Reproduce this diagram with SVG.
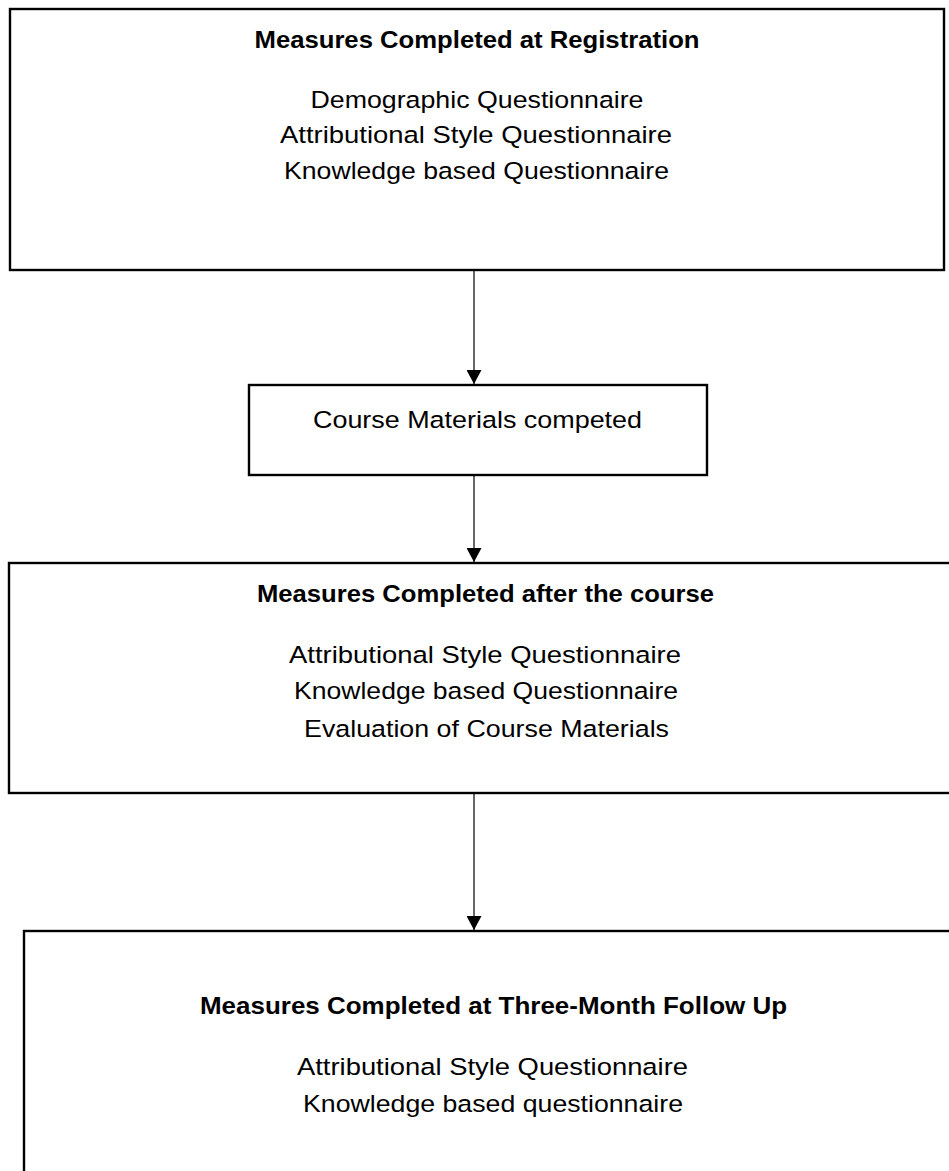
<svg xmlns="http://www.w3.org/2000/svg" width="949" height="1171" viewBox="0 0 949 1171">
<style>
.box{fill:#fff;stroke:#000;stroke-width:2.4}
.t{font-family:"Liberation Sans",Arial,sans-serif;font-size:24.5px;fill:#000;text-anchor:middle}
.b{font-weight:bold}
.c{stroke:#000;stroke-width:1.2;fill:none}
</style>
<defs>
<marker id="ah" viewBox="0 0 14 15" refX="14" refY="7.5" markerWidth="14" markerHeight="15" markerUnits="userSpaceOnUse" orient="auto">
<path d="M0,0 L14,7.5 L0,15 Z" fill="#000"/>
</marker>
</defs>
<rect width="949" height="1171" fill="#fff"/>
<g id="connectors">
<line class="c" x1="474" y1="271" x2="474" y2="384" marker-end="url(#ah)"/>
<line class="c" x1="474" y1="475" x2="474" y2="562" marker-end="url(#ah)"/>
<line class="c" x1="474" y1="793" x2="474" y2="930" marker-end="url(#ah)"/>
</g>
<g id="node-registration">
<rect class="box" x="10" y="9" width="934" height="261"/>
<text class="t b" x="477" y="48" textLength="445" lengthAdjust="spacingAndGlyphs">Measures Completed at Registration</text>
<text class="t" x="477" y="108" textLength="333" lengthAdjust="spacingAndGlyphs">Demographic Questionnaire</text>
<text class="t" x="476" y="143" textLength="392" lengthAdjust="spacingAndGlyphs">Attributional Style Questionnaire</text>
<text class="t" x="476.5" y="179" textLength="385" lengthAdjust="spacingAndGlyphs">Knowledge based Questionnaire</text>
</g>
<g id="node-course">
<rect class="box" x="249" y="385" width="458" height="90"/>
<text class="t" x="477.5" y="428" textLength="329" lengthAdjust="spacingAndGlyphs">Course Materials competed</text>
</g>
<g id="node-after">
<rect class="box" x="9" y="563" width="960" height="230"/>
<text class="t b" x="485.5" y="602" textLength="457" lengthAdjust="spacingAndGlyphs">Measures Completed after the course</text>
<text class="t" x="485" y="663" textLength="392" lengthAdjust="spacingAndGlyphs">Attributional Style Questionnaire</text>
<text class="t" x="486" y="699" textLength="384" lengthAdjust="spacingAndGlyphs">Knowledge based Questionnaire</text>
<text class="t" x="486.5" y="737" textLength="365" lengthAdjust="spacingAndGlyphs">Evaluation of Course Materials</text>
</g>
<g id="node-followup">
<rect class="box" x="24" y="931" width="960" height="260"/>
<text class="t b" x="493.5" y="1014" textLength="587" lengthAdjust="spacingAndGlyphs">Measures Completed at Three-Month Follow Up</text>
<text class="t" x="492.5" y="1075" textLength="391" lengthAdjust="spacingAndGlyphs">Attributional Style Questionnaire</text>
<text class="t" x="493" y="1112" textLength="380" lengthAdjust="spacingAndGlyphs">Knowledge based questionnaire</text>
</g>
</svg>
